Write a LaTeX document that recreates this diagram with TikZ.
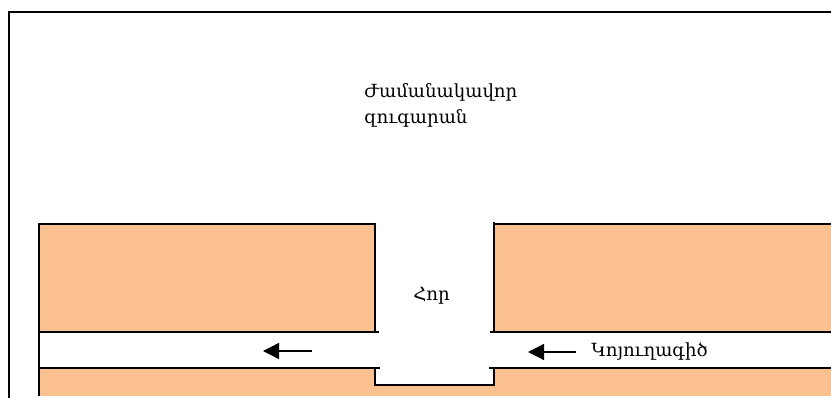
\documentclass[tikz,border=0pt]{standalone}
\usepackage{fontspec}
\setmainfont{DejaVu Serif}
\usetikzlibrary{arrows.meta}
\definecolor{soil}{HTML}{FAC08F}
\tikzset{
  wall/.style={draw=black,line width=1.5pt},
  flow/.style={-{Triangle[length=12pt,width=12pt]},line width=1pt},
  lbl/.style={anchor=west,inner sep=0pt,font=\fontsize{13.6}{19.5}\selectfont,align=left}
}
\begin{document}
\begin{tikzpicture}[x=0.75pt,y=-0.75pt]
\useasboundingbox (0,0) rectangle (831,398);

\fill[soil] (39,224) rectangle (375,332);
\fill[soil] (494,224) rectangle (831,332);
\fill[soil] (39,368) -- (375,368) -- (375,385) -- (494,385) -- (494,368) -- (831,368) -- (831,396) -- (39,396) -- cycle;

\draw[wall] (9,398) -- (9,12) -- (831,12);

\draw[wall] (39,396) -- (39,224) -- (375,224) -- (375,332);
\draw[wall] (494,222) -- (494,332);
\draw[wall] (494,224) -- (831,224);
\draw[wall] (39,332) -- (379,332);
\draw[wall] (490,332) -- (831,332);
\draw[wall] (39,368) -- (380,368);
\draw[wall] (489,368) -- (831,368);
\draw[wall] (375,368) -- (375,385) -- (494,385) -- (494,368);

\coordinate (leftstart) at (312,351);
\coordinate (leftend) at (263,351);
\coordinate (rightstart) at (576,352);
\coordinate (rightend) at (528,352);
\draw[flow] (leftstart) -- (leftend);
\draw[flow] (rightstart) -- (rightend);

\node[lbl] (toilet) at (364,105) {Ժամանակավոր\\զուգարան};
\node[lbl] (pit) at (413,296) {Հոր};
\node[lbl] (sewer) at (591,351) {Կոյուղագիծ};
\end{tikzpicture}
\end{document}
